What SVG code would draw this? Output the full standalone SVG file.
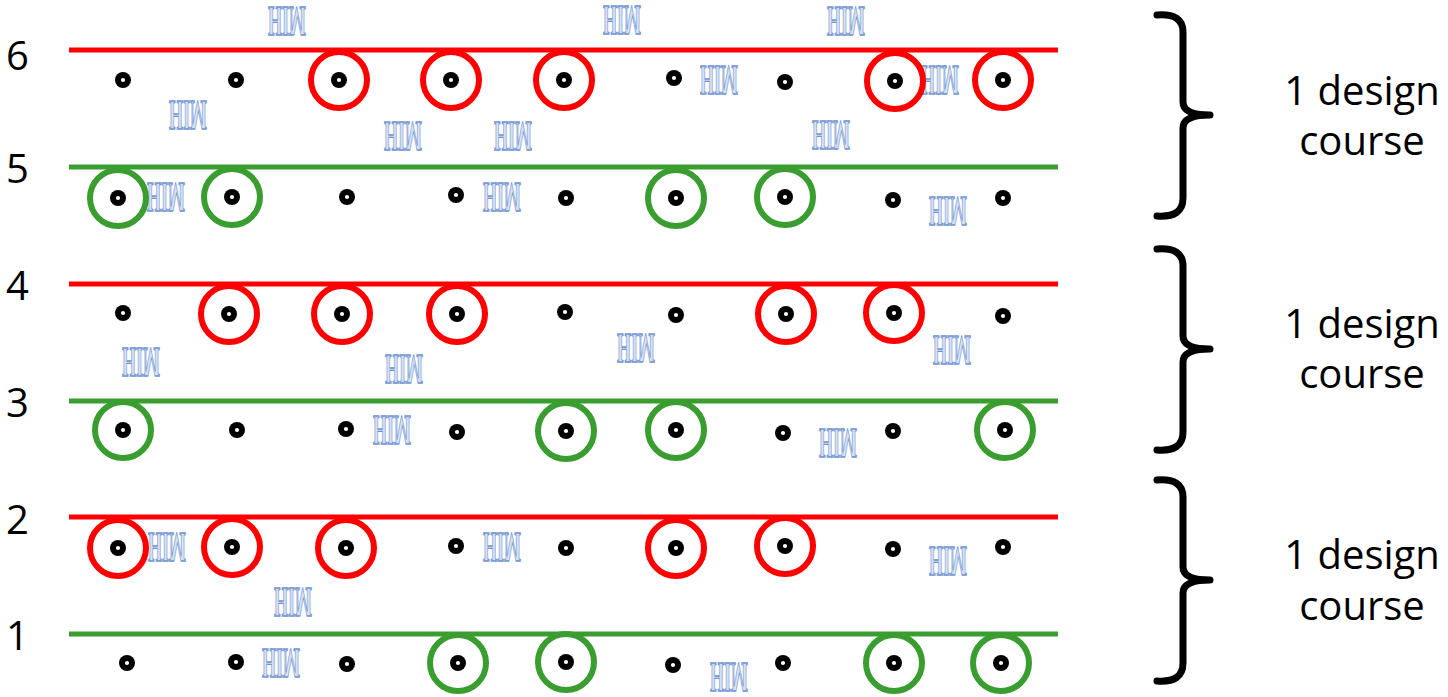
<svg xmlns="http://www.w3.org/2000/svg" width="1448" height="697" viewBox="0 0 1448 697">
<style>
.bg{fill:#ffffff}
.ln-red{stroke:#ff0000;stroke-width:5;fill:none}
.ln-green{stroke:#3a9d30;stroke-width:5;fill:none}
.ring-red{stroke:#ff0000;stroke-width:6;fill:none}
.ring-green{stroke:#3a9d30;stroke-width:6;fill:none}
.dot{fill:#000000}
.hole{fill:#ffffff}
.wm{font-family:"Liberation Serif",serif;font-weight:bold;font-size:43px;fill:#d9e2f3;stroke:#6f93d2;stroke-width:1;vector-effect:non-scaling-stroke;text-anchor:middle}
.num{font-family:"Open Sans",sans-serif;font-size:40px;fill:#000000}
.lbl{font-family:"Open Sans",sans-serif;font-size:40px;fill:#000000;text-anchor:middle}
.brace{stroke:#000000;stroke-width:7;fill:none;stroke-linecap:round;stroke-linejoin:round}
</style>
<defs>
<g id="pin"><circle class="dot" r="8"/><circle class="hole" r="2.1"/></g>
</defs>
<rect class="bg" x="0" y="0" width="1448" height="697"/>

<g id="connectors">
<line class="ln-red" x1="69" y1="50" x2="1058" y2="50"/>
<line class="ln-green" x1="69" y1="167" x2="1058" y2="167"/>
<line class="ln-red" x1="69" y1="284" x2="1058" y2="284"/>
<line class="ln-green" x1="69" y1="401" x2="1058" y2="401"/>
<line class="ln-red" x1="69" y1="517" x2="1058" y2="517"/>
<line class="ln-green" x1="69" y1="634" x2="1058" y2="634"/>
</g>

<g id="watermarks">
<text class="wm" transform="translate(287,7) scale(0.42,-1)">HIM</text>
<text class="wm" transform="translate(622,6) scale(0.42,-1)">HIM</text>
<text class="wm" transform="translate(846,7) scale(0.42,-1)">HIM</text>
<text class="wm" transform="translate(719,66) scale(0.42,-1)">HIM</text>
<text class="wm" transform="translate(940,66) scale(0.42,-1)">HIM</text>
<text class="wm" transform="translate(188,101) scale(0.42,-1)">HIM</text>
<text class="wm" transform="translate(403,122) scale(0.42,-1)">HIM</text>
<text class="wm" transform="translate(513,122) scale(0.42,-1)">HIM</text>
<text class="wm" transform="translate(831,121) scale(0.42,-1)">HIM</text>
<text class="wm" transform="translate(166,183) scale(0.42,-1)">HIM</text>
<text class="wm" transform="translate(502,183) scale(0.42,-1)">HIM</text>
<text class="wm" transform="translate(948,197) scale(0.42,-1)">HIM</text>
<text class="wm" transform="translate(141,348) scale(0.42,-1)">HIM</text>
<text class="wm" transform="translate(404,355) scale(0.42,-1)">HIM</text>
<text class="wm" transform="translate(636,334) scale(0.42,-1)">HIM</text>
<text class="wm" transform="translate(952,336) scale(0.42,-1)">HIM</text>
<text class="wm" transform="translate(392,416) scale(0.42,-1)">HIM</text>
<text class="wm" transform="translate(838,429) scale(0.42,-1)">HIM</text>
<text class="wm" transform="translate(167,533) scale(0.42,-1)">HIM</text>
<text class="wm" transform="translate(502,533) scale(0.42,-1)">HIM</text>
<text class="wm" transform="translate(948,547) scale(0.42,-1)">HIM</text>
<text class="wm" transform="translate(293,588) scale(0.42,-1)">HIM</text>
<text class="wm" transform="translate(281,649) scale(0.42,-1)">HIM</text>
<text class="wm" transform="translate(729,663) scale(0.42,-1)">HIM</text>
</g>

<!-- Row 6 -->
<g id="r6c1"><use href="#pin" x="123" y="80"/></g>
<g id="r6c2"><use href="#pin" x="236" y="80"/></g>
<g id="r6c3"><circle class="ring-red" cx="339" cy="80" r="28"/><use href="#pin" x="339" y="80"/></g>
<g id="r6c4"><circle class="ring-red" cx="451" cy="80" r="28"/><use href="#pin" x="451" y="80"/></g>
<g id="r6c5"><circle class="ring-red" cx="564" cy="80" r="28"/><use href="#pin" x="564" y="80"/></g>
<g id="r6c6"><use href="#pin" x="674" y="78"/></g>
<g id="r6c7"><use href="#pin" x="785" y="82"/></g>
<g id="r6c8"><circle class="ring-red" cx="895" cy="81" r="28"/><use href="#pin" x="895" y="81"/></g>
<g id="r6c9"><circle class="ring-red" cx="1003" cy="80" r="28"/><use href="#pin" x="1003" y="80"/></g>

<!-- Row 5 -->
<g id="r5c1"><circle class="ring-green" cx="118" cy="198" r="28"/><use href="#pin" x="118" y="198"/></g>
<g id="r5c2"><circle class="ring-green" cx="232" cy="197" r="28"/><use href="#pin" x="232" y="197"/></g>
<g id="r5c3"><use href="#pin" x="347" y="197"/></g>
<g id="r5c4"><use href="#pin" x="456" y="195"/></g>
<g id="r5c5"><use href="#pin" x="566" y="198"/></g>
<g id="r5c6"><circle class="ring-green" cx="676" cy="198" r="28"/><use href="#pin" x="676" y="198"/></g>
<g id="r5c7"><circle class="ring-green" cx="785" cy="197" r="28"/><use href="#pin" x="785" y="197"/></g>
<g id="r5c8"><use href="#pin" x="893" y="200"/></g>
<g id="r5c9"><use href="#pin" x="1003" y="198"/></g>

<!-- Row 4 -->
<g id="r4c1"><use href="#pin" x="123" y="313"/></g>
<g id="r4c2"><circle class="ring-red" cx="229" cy="314" r="28"/><use href="#pin" x="229" y="314"/></g>
<g id="r4c3"><circle class="ring-red" cx="342" cy="314" r="28"/><use href="#pin" x="342" y="314"/></g>
<g id="r4c4"><circle class="ring-red" cx="457" cy="314" r="28"/><use href="#pin" x="457" y="314"/></g>
<g id="r4c5"><use href="#pin" x="565" y="312"/></g>
<g id="r4c6"><use href="#pin" x="676" y="315"/></g>
<g id="r4c7"><circle class="ring-red" cx="786" cy="314" r="28"/><use href="#pin" x="786" y="314"/></g>
<g id="r4c8"><circle class="ring-red" cx="894" cy="313" r="28"/><use href="#pin" x="894" y="313"/></g>
<g id="r4c9"><use href="#pin" x="1003" y="316"/></g>

<!-- Row 3 -->
<g id="r3c1"><circle class="ring-green" cx="123" cy="430" r="28"/><use href="#pin" x="123" y="430"/></g>
<g id="r3c2"><use href="#pin" x="237" y="430"/></g>
<g id="r3c3"><use href="#pin" x="346" y="429"/></g>
<g id="r3c4"><use href="#pin" x="457" y="432"/></g>
<g id="r3c5"><circle class="ring-green" cx="566" cy="431" r="28"/><use href="#pin" x="566" y="431"/></g>
<g id="r3c6"><circle class="ring-green" cx="676" cy="430" r="28"/><use href="#pin" x="676" y="430"/></g>
<g id="r3c7"><use href="#pin" x="783" y="433"/></g>
<g id="r3c8"><use href="#pin" x="893" y="431"/></g>
<g id="r3c9"><circle class="ring-green" cx="1005" cy="430" r="28"/><use href="#pin" x="1005" y="430"/></g>

<!-- Row 2 -->
<g id="r2c1"><circle class="ring-red" cx="118" cy="548" r="28"/><use href="#pin" x="118" y="548"/></g>
<g id="r2c2"><circle class="ring-red" cx="232" cy="547" r="28"/><use href="#pin" x="232" y="547"/></g>
<g id="r2c3"><circle class="ring-red" cx="346" cy="548" r="28"/><use href="#pin" x="346" y="548"/></g>
<g id="r2c4"><use href="#pin" x="456" y="546"/></g>
<g id="r2c5"><use href="#pin" x="566" y="548"/></g>
<g id="r2c6"><circle class="ring-red" cx="676" cy="548" r="28"/><use href="#pin" x="676" y="548"/></g>
<g id="r2c7"><circle class="ring-red" cx="785" cy="546" r="28"/><use href="#pin" x="785" y="546"/></g>
<g id="r2c8"><use href="#pin" x="893" y="549"/></g>
<g id="r2c9"><use href="#pin" x="1003" y="547"/></g>

<!-- Row 1 -->
<g id="r1c1"><use href="#pin" x="127" y="663"/></g>
<g id="r1c2"><use href="#pin" x="236" y="662"/></g>
<g id="r1c3"><use href="#pin" x="347" y="664"/></g>
<g id="r1c4"><circle class="ring-green" cx="458" cy="663" r="28"/><use href="#pin" x="458" y="663"/></g>
<g id="r1c5"><circle class="ring-green" cx="566" cy="662" r="28"/><use href="#pin" x="566" y="662"/></g>
<g id="r1c6"><use href="#pin" x="673" y="665"/></g>
<g id="r1c7"><use href="#pin" x="783" y="663"/></g>
<g id="r1c8"><circle class="ring-green" cx="894" cy="663" r="28"/><use href="#pin" x="894" y="663"/></g>
<g id="r1c9"><circle class="ring-green" cx="1001" cy="663" r="28"/><use href="#pin" x="1001" y="663"/></g>

<g id="row-numbers">
<text class="num" x="6" y="70">6</text>
<text class="num" x="6" y="183">5</text>
<text class="num" x="6" y="300">4</text>
<text class="num" x="6" y="417">3</text>
<text class="num" x="6" y="534">2</text>
<text class="num" x="6" y="650">1</text>
</g>

<g id="brace1">
<path class="brace" d="M1157,15 Q1183,13 1183,32 L1183,102 Q1183,115 1210,115 Q1183,115 1183,128 L1183,198 Q1183,218 1157,216"/>
<text class="lbl" x="1362" y="105">1 design</text>
<text class="lbl" x="1362" y="155">course</text>
</g>
<g id="brace2">
<path class="brace" d="M1157,249 Q1183,247 1183,266 L1183,336 Q1183,349 1210,349 Q1183,349 1183,362 L1183,432 Q1183,452 1157,450"/>
<text class="lbl" x="1362" y="338">1 design</text>
<text class="lbl" x="1362" y="388">course</text>
</g>
<g id="brace3">
<path class="brace" d="M1157,480 Q1183,478 1183,497 L1183,567 Q1183,580 1210,580 Q1183,580 1183,593 L1183,663 Q1183,683 1157,681"/>
<text class="lbl" x="1362" y="569">1 design</text>
<text class="lbl" x="1362" y="620">course</text>
</g>
</svg>
